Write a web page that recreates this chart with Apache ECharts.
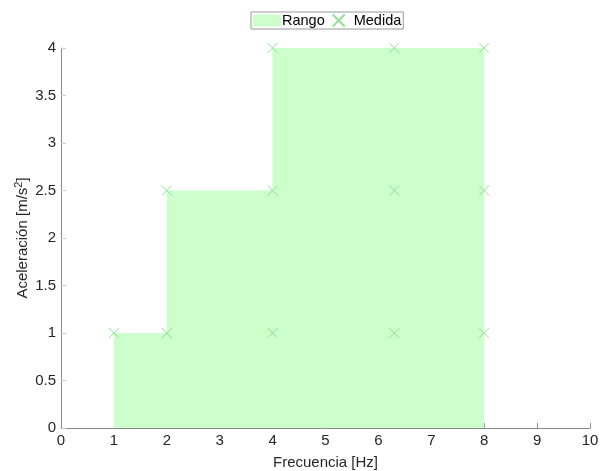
<!DOCTYPE html>
<html><head><meta charset="utf-8">
<script src="https://cdn.jsdelivr.net/npm/echarts@6/dist/echarts.min.js"></script>
<style>html,body{margin:0;padding:0;background:#fff}#c{width:603px;height:471px}</style>
</head><body><div id="c"></div>
<script>
const rangoX = [1, 2, 2, 4, 4, 8];
const rangoY = [1, 1, 2.5, 2.5, 4, 4];
const medidaX = [1, 2, 2, 4, 4, 4, 6.3, 6.3, 6.3, 8, 8, 8];
const medidaY = [1, 1, 2.5, 1, 2.5, 4, 1, 2.5, 4, 1, 2.5, 4];
const xTicks = [0,1,2,3,4,5,6,7,8,9,10];
const yTicks = [0,0.5,1,1.5,2,2.5,3,3.5,4];

const chart = echarts.init(document.getElementById('c'));
const font = 'Liberation Sans, Arial, sans-serif';
const axisCol = '#262626';
chart.setOption({
  animation: false,
  grid: {left: 61, right: 13, top: 48, bottom: 43, outerBoundsMode: 'none', containLabel: false},
  legend: {
    top: 12, left: 251,
    itemWidth: 28, itemHeight: 12, itemGap: 7,
    borderColor: '#999', borderWidth: 1, padding: [1, 2, 1, 2],
    textStyle: {fontFamily: font, fontSize: 14.5, color: '#000', padding: [0, 0, 0, -4]},
    data: [
      {name: 'Rango', icon: 'rect', itemStyle: {color: '#ccffcc'}},
      {name: 'Medida', icon: 'path://M0,0L10,10M10,0L0,10'}
    ]
  },
  xAxis: {
    type: 'value', min: 0, max: 10, interval: 1,
    name: 'Frecuencia [Hz]', nameLocation: 'middle', nameGap: 27,
    nameTextStyle: {fontFamily: font, fontSize: 15, color: axisCol},
    axisLine: {show: true, onZero: false, lineStyle: {color: '#888', width: 1}},
    axisTick: {show: true, inside: true, length: 5, lineStyle: {color: '#888'}},
    axisLabel: {fontFamily: font, fontSize: 15, color: axisCol, margin: 5,
      formatter: v => xTicks.includes(v) ? String(v) : ''},
    splitLine: {show: false}
  },
  yAxis: {
    type: 'value', min: 0, max: 4, interval: 0.5,
    name: 'Aceleración [m/s{sup|2}]', nameLocation: 'middle', nameGap: 29,
    nameMoveOverlap: false,
    nameTextStyle: {fontFamily: font, fontSize: 15, color: axisCol,
      rich: {sup: {fontFamily: font, fontSize: 11, color: axisCol, padding: [0, 0, 8, 0]}}},
    axisLine: {show: true, onZero: false, lineStyle: {color: '#888', width: 1}},
    axisTick: {show: true, inside: true, length: 5, lineStyle: {color: '#ccc'}},
    axisLabel: {fontFamily: font, fontSize: 15, color: axisCol, margin: 5,
      formatter: v => yTicks.includes(v) ? String(v) : ''},
    splitLine: {show: false}
  },
  series: [
    {
      name: 'Rango', type: 'line', symbol: 'none',
      data: rangoX.map((x, i) => [x, rangoY[i]]),
      lineStyle: {width: 0, color: '#ccffcc'},
      itemStyle: {color: '#ccffcc'},
      areaStyle: {color: '#ccffcc', opacity: 1},
      z: 1
    },
    {
      name: 'Medida', type: 'scatter',
      symbol: 'path://M0,0L10,10M10,0L0,10', symbolSize: 10,
      data: medidaX.map((x, i) => [x, medidaY[i]]),
      itemStyle: {color: 'rgba(0,0,0,0)', borderColor: '#77d977', borderWidth: 1},
      z: 3
    }
  ]
});
</script></body></html>
